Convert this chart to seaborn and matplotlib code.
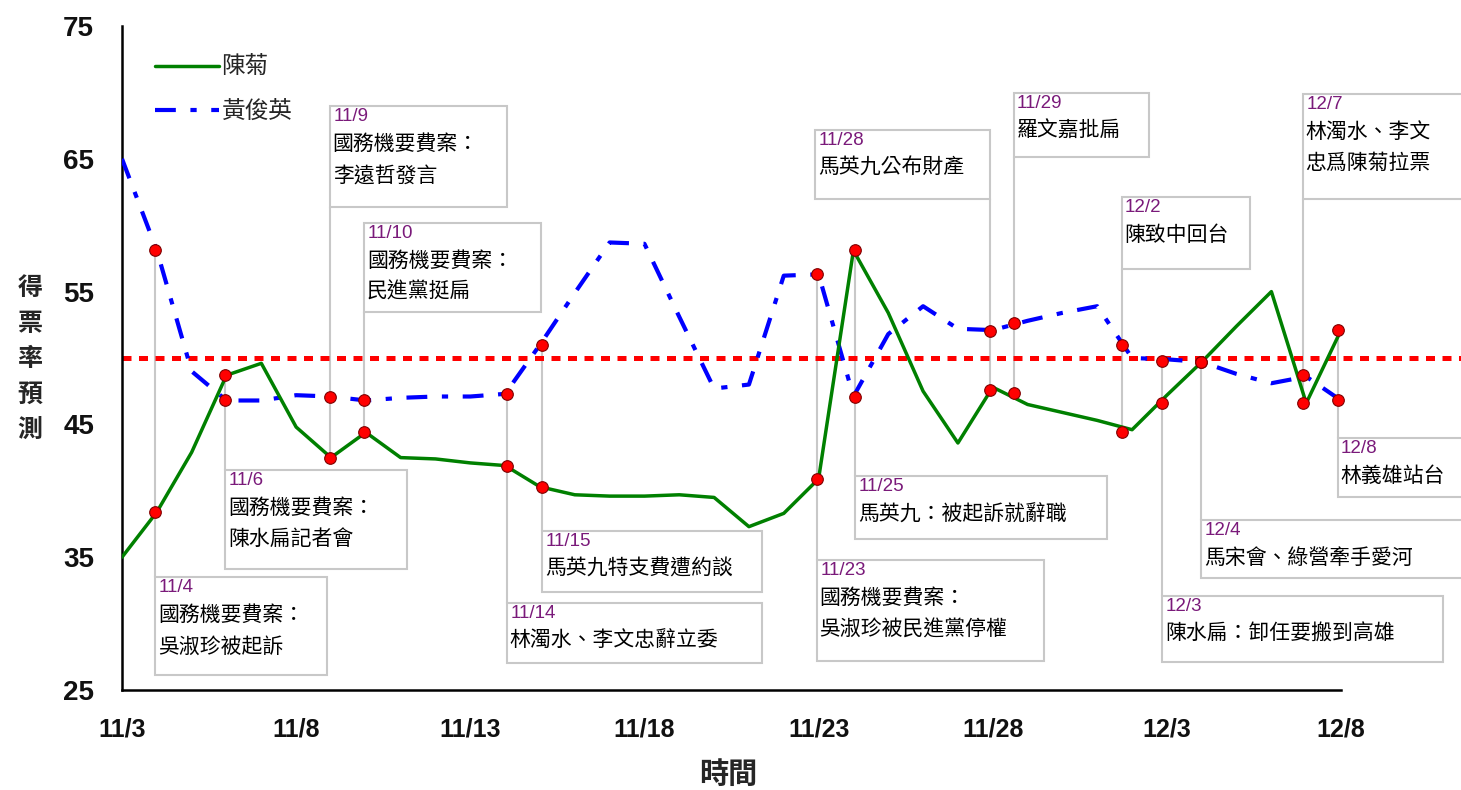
import matplotlib
matplotlib.use("Agg")
import matplotlib.pyplot as plt
import pandas as pd
import seaborn as sns
from matplotlib.patches import Rectangle

# day 0 = 11/3, one value per day up to 12/8
days = list(range(36))
chen_ju = [35.0, 38.4, 42.9, 48.7, 49.6, 44.8, 42.5, 44.4, 42.5, 42.4,
           42.1, 41.9, 40.3, 39.7, 39.6, 39.6, 39.7, 39.5, 37.3, 38.3,
           40.9, 58.1, 53.4, 47.5, 43.6, 47.8, 46.5, 45.9, 45.3, 44.6,
           47.2, 49.7, 52.4, 55.0, 46.6, 52.1]
huang_junying = [65.0, 58.1, 49.0, 46.8, 46.8, 47.2, 47.1, 46.8, 47.0, 47.1,
                 47.1, 47.3, 51.0, 54.9, 58.7, 58.6, 53.1, 47.7, 48.0, 56.2,
                 56.3, 47.1, 51.8, 53.9, 52.2, 52.1, 52.8, 53.4, 53.9, 50.0,
                 49.9, 49.7, 48.8, 48.1, 48.6, 46.8]

tick_days = [0, 5, 10, 15, 20, 25, 30, 35]
tick_labels = ["11/3", "11/8", "11/13", "11/18", "11/23", "11/28", "12/3", "12/8"]

# events (red dots on both curves)
event_dates = ["11/4", "11/6", "11/9", "11/10", "11/14", "11/15", "11/23", "11/25",
               "11/28", "11/29", "12/2", "12/3", "12/4", "12/7", "12/8"]
event_texts = ["國務機要費案：\n吳淑珍被起訴",
               "國務機要費案：\n陳水扁記者會",
               "國務機要費案：\n李遠哲發言",
               "國務機要費案：\n民進黨挺扁",
               "林濁水、李文忠辭立委",
               "馬英九特支費遭約談",
               "國務機要費案：\n吳淑珍被民進黨停權",
               "馬英九：被起訴就辭職",
               "馬英九公布財產",
               "羅文嘉批扁",
               "陳致中回台",
               "陳水扁：卸任要搬到高雄",
               "馬宋會、綠營牽手愛河",
               "林濁水、李文\n忠爲陳菊拉票",
               "林義雄站台"]
event_x = [0.95, 2.96, 5.97, 6.95, 11.05, 12.06, 19.95, 21.05,
           24.92, 25.6, 28.7, 29.86, 30.98, 33.9, 34.9]
event_chen = [38.4, 48.7, 42.5, 44.4, 41.9, 40.3, 40.9, 58.1,
              47.6, 47.4, 44.4, 46.6, 49.7, 46.6, 52.1]
event_huang = [58.1, 46.8, 47.1, 46.8, 47.3, 51.0, 56.3, 47.1,
               52.0, 52.6, 51.0, 49.8, 49.7, 48.7, 46.8]

# annotation box layout: (left, right, bottom, top) in data units
box_layout = [(0.95, 5.89, 26.1, 33.5), (2.96, 8.18, 34.1, 41.6),
              (5.97, 11.05, 61.4, 69.0), (6.95, 12.03, 53.5, 60.2),
              (11.05, 18.37, 27.0, 31.55), (12.06, 18.37, 32.4, 37.0),
              (19.95, 26.47, 27.2, 34.8), (21.05, 28.28, 36.4, 41.1),
              (19.9, 24.92, 62.0, 67.2), (25.6, 29.5, 65.1, 69.95),
              (28.7, 32.4, 56.7, 62.1), (29.86, 37.93, 27.1, 32.1),
              (30.98, 39.5, 33.4, 37.8), (33.9, 39.5, 62.0, 69.9),
              (34.9, 39.5, 39.5, 44.0)]

sns.set_theme(style="white")
cjk = ["Noto Sans CJK TC", "DejaVu Sans"]
plt.rcParams["font.family"] = cjk

W, H = 1461, 790
fig = plt.figure(figsize=(W / 100, H / 100), dpi=100)
ax = fig.add_axes([122 / W, 1 - 690 / H, 1 - 122 / W, (690 - 26) / H])

df = pd.DataFrame({"day": days, "陳菊": chen_ju, "黃俊英": huang_junying})

ax.axhline(50, color="#FF0000", lw=3.6, ls=(0, (1.8, 1.5)), zorder=2)

grey = "#C8C8C8"
for x, (l, r, b, t), yc, yh in zip(event_x, box_layout, event_chen, event_huang):
    lo, hi = min(yc, yh), max(yc, yh)
    if b > hi:
        ax.plot([x, x], [lo, b], color=grey, lw=1.5, zorder=1, clip_on=False)
    else:
        ax.plot([x, x], [t, hi], color=grey, lw=1.5, zorder=1, clip_on=False)

sns.lineplot(data=df, x="day", y="黃俊英", color="#0000FF", lw=3,
             ls=(0, (5, 3.5, 1.5, 3.5)), label="黃俊英", ax=ax, zorder=3)
sns.lineplot(data=df, x="day", y="陳菊", color="#008000", lw=2.5,
             label="陳菊", ax=ax, zorder=4)
sns.scatterplot(x=event_x + event_x, y=event_chen + event_huang, color="#FF0000",
                edgecolor="#7F0000", linewidth=0.8, s=70, zorder=5, ax=ax, legend=False)

for (l, r, b, t), d, txt in zip(box_layout, event_dates, event_texts):
    ax.add_patch(Rectangle((l, b), r - l, t - b, facecolor="white", edgecolor=grey,
                           lw=1.5, zorder=2, clip_on=False))
    ax.annotate(d, xy=(l, t), xytext=(2.5, -1.5), textcoords="offset points",
                ha="left", va="top", fontsize=13.5, color="#7A1A7A",
                family=["Liberation Sans", "DejaVu Sans"], annotation_clip=False, zorder=6)
    ax.annotate(txt, xy=(l, t), xytext=(2, -19.5), textcoords="offset points",
                ha="left", va="top", fontsize=15, color="black", linespacing=1.55,
                family=cjk, annotation_clip=False, zorder=6)

ax.set_xlim(0, (W - 122) / 34.83)
ax.set_ylim(25, 75)
ax.set_xticks(tick_days, tick_labels)
ax.set_yticks(range(25, 76, 10))
ax.set_xlabel("")
ax.set_ylabel("")
sns.despine(ax=ax)
ax.spines["bottom"].set_bounds(0, 35)
for s in ["left", "bottom"]:
    ax.spines[s].set_color("black")
    ax.spines[s].set_linewidth(1.8)
ax.tick_params(axis="both", direction="in", length=6, width=1.5, color="black")
ax.tick_params(axis="x", pad=20)
ax.tick_params(axis="y", pad=20)
for lab in ax.get_xticklabels():
    lab.set_fontfamily(["Liberation Sans", "DejaVu Sans"])
    lab.set_fontweight("bold")
    lab.set_fontsize(18)
    lab.set_color("#111111")
for lab in ax.get_yticklabels():
    lab.set_fontfamily(["Liberation Sans Narrow", "Liberation Sans", "DejaVu Sans"])
    lab.set_fontweight("bold")
    lab.set_fontsize(20)
    lab.set_color("#111111")

# legend: 陳菊 first
h, labs = ax.get_legend_handles_labels()
order = [labs.index("陳菊"), labs.index("黃俊英")]
ax.legend([h[i] for i in order], [labs[i] for i in order], loc="upper left",
          bbox_to_anchor=(0.0246, 0.955), frameon=False, fontsize=17,
          handlelength=2.7, handletextpad=0.1, labelspacing=0.9,
          borderpad=0, borderaxespad=0)

fig.text(30 / W, 1 - 359 / H, "\n".join("得票率預測"), fontsize=18, fontweight="bold",
         ha="center", va="center", linespacing=1.6, family=cjk)
fig.text(728 / W, 1 - 774 / H, "時間", fontsize=21, fontweight="bold",
         ha="center", va="center", family=cjk)

fig.savefig("out.png", dpi=100)
